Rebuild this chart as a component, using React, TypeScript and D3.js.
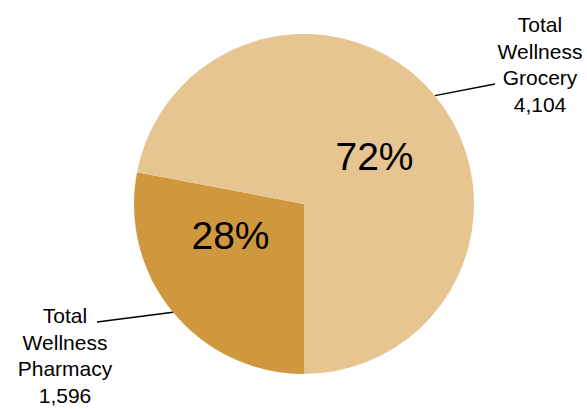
import React from "react";
import * as d3 from "d3";

const categories = ["Total Wellness Pharmacy", "Total Wellness Grocery"];
const labelLines = [["Total", "Wellness", "Pharmacy"], ["Total", "Wellness", "Grocery"]];
const values = [1596, 4104];
const colors = ["#CF983F", "#E6C591"];

const W = 587, H = 409;
const cx = 304, cy = 204, R = 170;

export default function App() {
  const total = d3.sum(values);
  const pie = d3.pie<number>().sort(null).startAngle(Math.PI).endAngle(3 * Math.PI);
  const arcs = pie(values);
  const arc = d3.arc<d3.PieArcDatum<number>>().innerRadius(0).outerRadius(R);
  const fmt = d3.format(",");
  const pct = (v: number) => `${Math.round((v / total) * 100)}%`;
  const font = "'Liberation Sans', Arial, sans-serif";

  const labelPos = [
    { x: 65, y: 323, lineEnd: [97, 322] },
    { x: 540, y: 32, lineEnd: [495, 84] },
  ];
  const pctOffset = [
    { dx: -8, dy: -9 },
    { dx: 5, dy: 20 },
  ];

  return (
    <svg width={W} height={H} style={{ position: "absolute", left: 0, top: 0, background: "#fff" }}>
      <g transform={`translate(${cx},${cy})`}>
        {arcs.map((a, i) => (
          <path key={i} d={arc(a) as string} fill={colors[i]} />
        ))}
        {arcs.map((a, i) => {
          const mid = (a.startAngle + a.endAngle) / 2;
          const px = R * Math.sin(mid);
          const py = -R * Math.cos(mid);
          const e = labelPos[i].lineEnd;
          return (
            <line
              key={"l" + i}
              x1={px}
              y1={py}
              x2={e[0] - cx}
              y2={e[1] - cy}
              stroke="#000"
              strokeWidth={1.5}
            />
          );
        })}
        {arcs.map((a, i) => {
          const [x, y] = arc.centroid(a);
          return (
            <text
              key={"p" + i}
              x={x + pctOffset[i].dx}
              y={y + pctOffset[i].dy}
              textAnchor="middle"
              fontFamily={font}
              fontSize={39}
              fill="#000"
            >
              {pct(values[i])}
            </text>
          );
        })}
      </g>
      {categories.map((c, i) => (
        <text key={c} x={labelPos[i].x} y={labelPos[i].y} textAnchor="middle" fontFamily={font} fontSize={21} fill="#000">
          {[...labelLines[i], fmt(values[i])].map((t, j) => (
            <tspan key={j} x={labelPos[i].x} dy={j === 0 ? 0 : 26.7}>
              {t}
            </tspan>
          ))}
        </text>
      ))}
    </svg>
  );
}
